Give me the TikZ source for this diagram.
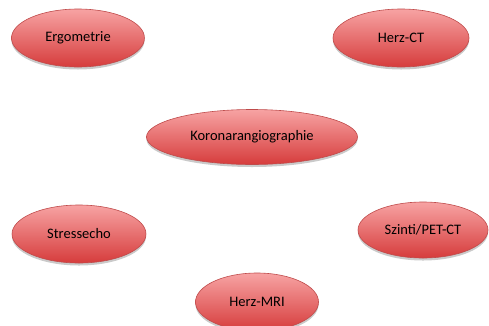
\documentclass[tikz,border=0pt]{standalone}
\usepackage{fontspec}
\setmainfont{Carlito}
\usetikzlibrary{shapes.geometric,shadows}
\definecolor{etop}{HTML}{F7A3A3}
\definecolor{ebot}{HTML}{D63C3C}
\definecolor{eline}{HTML}{BF4B4B}
\tikzset{
  ell/.style={ellipse, draw=eline, line width=0.6pt, top color=etop, bottom color=ebot,
    inner sep=0pt, font=\fontsize{14.5}{16}\selectfont,
    drop shadow={shadow xshift=0pt, shadow yshift=-2.5pt, opacity=0.35, fill=black!60}}
}
\begin{document}
\begin{tikzpicture}[x=1pt,y=-1pt]
\useasboundingbox (0,0) rectangle (489,325);
\clip (0,0) rectangle (489,325);
\node[ell, minimum width=133pt, minimum height=58pt] (ergo) at (78,38) {Ergometrie};
\node[ell, minimum width=136pt, minimum height=58pt] (hct) at (401,38) {Herz-CT};
\node[ell, minimum width=211pt, minimum height=55pt] (koro) at (252,137) {Koronarangiographie};
\node[ell, minimum width=134pt, minimum height=58pt] (stress) at (79,234) {Stressecho};
\node[ell, minimum width=130pt, minimum height=56pt] (szinti) at (423,230) {Szinti/PET-CT};
\node[ell, minimum width=123pt, minimum height=58pt] (mri) at (257,302) {Herz-MRI};
\end{tikzpicture}
\end{document}
